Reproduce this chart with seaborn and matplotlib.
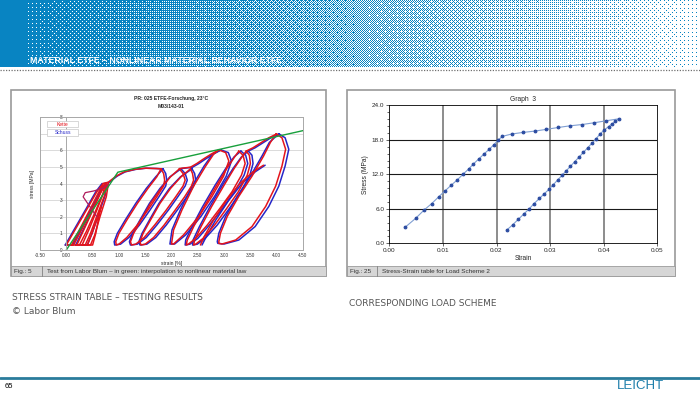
import numpy as np
import seaborn as sns
import matplotlib.pyplot as plt
from matplotlib.patches import Rectangle

sns.set_style('white')
plt.rcParams['font.family'] = ['Liberation Sans', 'DejaVu Sans']

# ---- left chart: cyclic test (strain %, stress MPa) ----
c1_x = [0.00, 0.20, 0.40, 0.58, 0.70, 0.66, 0.50, 0.32, 0.14, 0.00]
c1_y = [0.30, 1.40, 2.50, 3.50, 4.00, 3.50, 2.50, 1.40, 0.30, 0.30]
c2_x = [0.10, 0.28, 0.46, 0.62, 0.74, 0.70, 0.55, 0.38, 0.25, 0.10]
c2_y = [0.30, 1.40, 2.50, 3.50, 4.00, 3.40, 2.30, 1.10, 0.30, 0.30]
c3_x = [0.20, 0.36, 0.52, 0.66, 0.77, 0.73, 0.60, 0.46, 0.36, 0.20]
c3_y = [0.30, 1.40, 2.50, 3.50, 4.00, 3.30, 2.20, 1.00, 0.30, 0.30]
c4_x = [0.30, 0.44, 0.58, 0.70, 0.80, 0.76, 0.64, 0.54, 0.46, 0.30]
c4_y = [0.30, 1.30, 2.40, 3.40, 4.00, 3.20, 2.00, 0.90, 0.30, 0.30]
c5_x = [0.40, 0.50, 0.60, 0.66, 0.62, 0.56, 0.50, 0.40]
c5_y = [0.30, 1.10, 2.00, 2.60, 2.00, 1.00, 0.30, 0.30]
bc1_x = [-0.02, 0.18, 0.38, 0.56, 0.68, 0.64, 0.48, 0.30, 0.12, -0.02]
bc3_x = [0.18, 0.35, 0.51, 0.65, 0.76, 0.74, 0.62, 0.49, 0.40, 0.18]

hump_x = [0.58, 0.45, 0.32, 0.36, 0.52, 0.68, 0.80]
hump_y = [2.00, 2.60, 3.20, 3.45, 3.55, 3.70, 3.95]

env1_x = [0.70, 0.80, 0.95, 1.10, 1.30, 1.50, 1.70, 1.80]
env1_bx = [0.72, 0.82, 0.97, 1.12, 1.32, 1.52, 1.72, 1.83]
env1_y = [4.00, 4.08, 4.45, 4.70, 4.85, 4.92, 4.90, 4.88]

loop_y = [4.88, 4.60, 4.20, 3.85, 3.20, 2.40, 1.50, 0.75, 0.35, 0.30, 0.50, 1.00, 1.80, 2.80, 3.70, 4.40, 4.88]
l1_x = [1.80, 1.85, 1.87, 1.85, 1.72, 1.55, 1.35, 1.15, 1.00, 0.95, 0.94, 1.00, 1.15, 1.35, 1.55, 1.72, 1.80]
l1_bx = [1.84, 1.89, 1.91, 1.89, 1.76, 1.59, 1.39, 1.19, 1.03, 0.92, 0.91, 0.97, 1.12, 1.32, 1.52, 1.70, 1.84]
l2_x = [2.15, 2.22, 2.26, 2.22, 2.08, 1.90, 1.68, 1.48, 1.32, 1.24, 1.22, 1.28, 1.42, 1.60, 1.80, 1.98, 2.15]
l2_bx = [2.18, 2.26, 2.30, 2.26, 2.12, 1.94, 1.72, 1.52, 1.35, 1.22, 1.20, 1.26, 1.40, 1.58, 1.78, 1.97, 2.18]
l3_x = [2.36, 2.40, 2.42, 2.38, 2.25, 2.07, 1.86, 1.66, 1.50, 1.42, 1.40, 1.46, 1.60, 1.78, 1.98, 2.18, 2.36]
l3_bx = [2.39, 2.44, 2.46, 2.42, 2.29, 2.11, 1.90, 1.70, 1.53, 1.40, 1.38, 1.44, 1.58, 1.76, 1.96, 2.17, 2.39]

env2_x = [2.15, 2.36, 2.48, 2.62, 2.76, 2.90]
env2_bx = [2.19, 2.40, 2.52, 2.66, 2.80, 2.94]
env2_y = [4.90, 4.98, 5.20, 5.50, 5.78, 6.02]

l4_x = [2.90, 3.03, 3.09, 2.99, 2.77, 2.52, 2.23, 2.04, 2.00, 2.04, 2.20, 2.42, 2.65, 2.80, 2.90]
l4_bx = [2.94, 3.08, 3.14, 3.04, 2.82, 2.56, 2.27, 2.06, 1.97, 2.01, 2.17, 2.39, 2.62, 2.78, 2.94]
l4_y = [6.02, 5.86, 5.35, 4.44, 3.23, 2.02, 0.91, 0.36, 0.36, 1.21, 2.42, 3.84, 5.05, 5.76, 6.02]

loop5_y = [5.95, 5.70, 5.20, 4.50, 3.50, 2.50, 1.50, 0.70, 0.35, 0.30, 0.60, 1.40, 2.60, 3.90, 4.90, 5.60, 5.95]
l5_x = [3.28, 3.36, 3.40, 3.33, 3.15, 2.92, 2.68, 2.46, 2.32, 2.28, 2.30, 2.42, 2.62, 2.86, 3.05, 3.20, 3.28]
l5_bx = [3.32, 3.41, 3.45, 3.38, 3.20, 2.97, 2.72, 2.50, 2.35, 2.26, 2.27, 2.39, 2.59, 2.83, 3.03, 3.19, 3.32]
l6_x = [3.42, 3.48, 3.50, 3.44, 3.27, 3.05, 2.82, 2.60, 2.46, 2.42, 2.44, 2.56, 2.76, 3.00, 3.19, 3.34, 3.42]
l6_bx = [3.46, 3.53, 3.55, 3.49, 3.32, 3.10, 2.87, 2.64, 2.49, 2.40, 2.41, 2.53, 2.73, 2.97, 3.17, 3.33, 3.46]

part_x = [2.55, 2.62, 2.80, 3.05, 3.30, 3.55, 3.75]
part_bx = [2.58, 2.66, 2.84, 3.09, 3.34, 3.59, 3.78]
part_y = [0.30, 0.80, 1.80, 3.00, 4.00, 4.70, 5.10]

env3_x = [3.42, 3.55, 3.70, 3.85, 4.00]
env3_bx = [3.46, 3.59, 3.74, 3.89, 4.04]
env3_y = [5.95, 6.15, 6.45, 6.75, 6.98]

l8_x = [3.99, 4.10, 4.17, 4.10, 3.98, 3.79, 3.53, 3.22, 2.96, 2.90, 2.90, 2.93, 3.06, 3.28, 3.53, 3.75, 3.88, 3.99]
l8_bx = [4.04, 4.16, 4.23, 4.16, 4.04, 3.85, 3.59, 3.28, 3.00, 2.88, 2.87, 2.90, 3.03, 3.25, 3.50, 3.72, 3.86, 4.04]
l8_y = [6.99, 6.75, 6.06, 5.05, 3.84, 2.62, 1.41, 0.60, 0.36, 0.40, 0.50, 1.01, 2.02, 3.23, 4.44, 5.65, 6.47, 6.99]

green_x = [0.00, 0.98, 4.50]
green_y = [0.00, 4.68, 7.18]

left_xticks = [-0.5, 0.0, 0.5, 1.0, 1.5, 2.0, 2.5, 3.0, 3.5, 4.0, 4.5]
left_yticks = [0, 1, 2, 3, 4, 5, 6, 7, 8]
left_ylabels = ['0', '1', '2', '3', '4', '5', '6', '', '8']  # "7" sits under the legend

# ---- right chart: stress-strain table ----
strain_r = [0.0029, 0.0049, 0.0065, 0.0079, 0.0092, 0.0104, 0.0115, 0.0127, 0.0138, 0.0148,
            0.0157, 0.0167, 0.0177, 0.0186, 0.0195, 0.0203,
            0.0211, 0.0228, 0.0249, 0.0271, 0.0292, 0.0315, 0.0337, 0.0360, 0.0382, 0.0404, 0.0428,
            0.0422, 0.0416, 0.0409, 0.0401, 0.0393, 0.0386, 0.0378, 0.0370, 0.0362, 0.0354,
            0.0346, 0.0338, 0.0330, 0.0322, 0.0314, 0.0306, 0.0298, 0.0289, 0.0280, 0.0270,
            0.0261, 0.0251, 0.0241, 0.0230, 0.0219]
stress_r = [2.75, 4.33, 5.79, 6.90, 8.07, 9.12, 10.06, 11.05, 12.05, 12.92,
            13.80, 14.68, 15.56, 16.32, 17.13, 17.95,
            18.60, 19.00, 19.28, 19.51, 19.80, 20.14, 20.43, 20.66, 20.96, 21.30, 21.65,
            21.20, 20.80, 20.30, 19.70, 19.00, 18.20, 17.40, 16.60, 15.80, 15.00,
            14.20, 13.40, 12.60, 11.80, 11.00, 10.20, 9.40, 8.60, 7.80, 6.90,
            6.00, 5.10, 4.20, 3.20, 2.30]
right_xticks = [0.00, 0.01, 0.02, 0.03, 0.04, 0.05]
right_yticks = [0.0, 6.0, 12.0, 18.0, 24.0]

RED = '#e3141c'
BLUE = '#2626c8'
GREEN = '#18a03c'

fig = plt.figure(figsize=(7, 3.94), dpi=100)

# background layer in pixel coordinates
bg = fig.add_axes([0, 0, 1, 1])
bg.set_xlim(0, 700)
bg.set_ylim(394, 0)
bg.axis('off')

# dithered header band
b = np.array([[0, 2], [3, 1]])
for _ in range(2):
    b = np.block([[4 * b, 4 * b + 2], [4 * b + 3, 4 * b + 1]])
thr = (b + 0.5) / b.size
hh, ww = 67, 700
cols = np.arange(ww)
dens = 0.98 - 0.93 * cols / ww
dens[:25] = 1.0
tile = np.tile(thr, (hh // 8 + 1, ww // 8 + 1))[:hh, :ww]
mask = tile < dens[None, :]
img = np.ones((hh, ww, 3))
img[mask] = [8 / 255, 132 / 255, 194 / 255]
bg.imshow(img, extent=[0, 700, 67, 0], interpolation='nearest', aspect='auto')
bg.plot([0, 700], [69.5, 69.5], ls=(0, (1, 1.2)), color='#707070', lw=0.9)
bg.text(30, 60, 'MATERIAL ETFE – NONLINEAR MATERIAL BEHAVIOR ETFE', color='white',
        fontsize=6.3, va='center', ha='left', fontweight='bold')

# panels with caption bars
for x0, x1, sep, fig_lbl, cap in [
        (11, 326, 42, 'Fig.: 5', 'Test from Labor Blum – in green: interpolation to nonlinear material law'),
        (347, 675, 377, 'Fig.: 25', 'Stress-Strain table for Load Scheme 2')]:
    bg.add_patch(Rectangle((x0, 89.5), x1 - x0, 186.5, fc='white', ec='#9a9a9a', lw=1.2))
    bg.add_patch(Rectangle((x0, 266), x1 - x0, 10, fc='#d6d6d6', ec='#9a9a9a', lw=0.6))
    bg.plot([sep, sep], [266, 276], color='#808080', lw=0.6)
    bg.text(x0 + 3, 271.2, fig_lbl, fontsize=4.6, va='center', color='#333333')
    bg.text(sep + 5, 271.2, cap, fontsize=4.6, va='center', color='#333333')

# slide texts
slide_font = ['DejaVu Sans']
bg.text(12, 297, 'STRESS STRAIN TABLE – TESTING RESULTS', fontsize=6.5, color='#555555',
        va='center', family=slide_font)
bg.text(12, 311, '© Labor Blum', fontsize=6.5, color='#555555', va='center', family=slide_font)
bg.text(349, 304, 'CORRESPONDING LOAD SCHEME', fontsize=6.5, color='#555555', va='center',
        family=slide_font)
bg.plot([0, 700], [378, 378], color='#2a7c9c', lw=2.0)
bg.text(5, 386.5, '65', fontsize=5.5, color='black', va='center')
bg.text(664, 386, 'LEICHT', fontsize=9.5, color='#1f7fab', va='center', ha='right')

# ---- left chart ----
ax1 = fig.add_axes([40 / 700, (394 - 250) / 394, 263 / 700, 133 / 394])
blue_loops = [(bc1_x, c1_y), (bc3_x, c3_y), (env1_bx, env1_y), (l1_bx, loop_y), (l2_bx, loop_y),
              (l3_bx, loop_y), (env2_bx, env2_y), (l4_bx, l4_y), (l5_bx, loop5_y), (l6_bx, loop5_y),
              (part_bx, part_y), (env3_bx, env3_y), (l8_bx, l8_y)]
red_loops = [(c1_x, c1_y), (c2_x, c2_y), (c3_x, c3_y), (c4_x, c4_y), (c5_x, c5_y),
             (env1_x, env1_y), (l1_x, loop_y), (l2_x, loop_y), (l3_x, loop_y), (env2_x, env2_y),
             (l4_x, l4_y), (l5_x, loop5_y), (l6_x, loop5_y), (part_x, part_y), (env3_x, env3_y),
             (l8_x, l8_y)]
for xs, ys in blue_loops:
    sns.lineplot(x=xs, y=ys, sort=False, estimator=None, color=BLUE, lw=1.1, ax=ax1)
for xs, ys in red_loops:
    sns.lineplot(x=xs, y=ys, sort=False, estimator=None, color=RED, lw=1.1, ax=ax1)
sns.lineplot(x=hump_x, y=hump_y, sort=False, estimator=None, color='#b01c5c', lw=0.9, ax=ax1)
sns.lineplot(x=green_x, y=green_y, sort=False, estimator=None, color=GREEN, lw=1.0, ax=ax1)

ax1.set_xlim(-0.5, 4.5)
ax1.set_ylim(0, 8)
ax1.set_xticks(left_xticks)
ax1.set_xticklabels([f'{v:.2f}' for v in left_xticks])
ax1.set_yticks(left_yticks)
ax1.set_yticklabels(left_ylabels)
ax1.yaxis.grid(True, color='#d4d4d4', lw=0.6)
ax1.spines['left'].set_position(('data', 0))
for s in ['left', 'right', 'top', 'bottom']:
    ax1.spines[s].set_color('#a8a8a8')
    ax1.spines[s].set_linewidth(0.7)
ax1.axvline(-0.5, color='#a8a8a8', lw=0.7)
ax1.tick_params(labelsize=3.4, length=1.5, width=0.4, pad=1, colors='#333333')
ax1.set_xlabel('strain [%]', fontsize=3.6, labelpad=1.5)
ax1.set_ylabel('')
ax1.text(-0.03, 0.5, 'stress [MPa]', transform=ax1.transAxes, rotation=90, fontsize=3.6,
         va='center', ha='center')
ax1.text(0.5, 1.14, 'PR: 025 ETFE-Forschung, 23°C', transform=ax1.transAxes, fontsize=3.6,
         ha='center', va='center', fontweight='bold')
ax1.text(0.5, 1.08, 'M03/143-01', transform=ax1.transAxes, fontsize=3.6,
         ha='center', va='center', fontweight='bold')
for yc, lbl, col in [(0.947, 'Kette', RED), (0.883, 'Schuss', BLUE)]:
    ax1.add_patch(Rectangle((0.027, yc - 0.024), 0.118, 0.048, transform=ax1.transAxes,
                            fc='white', ec='#c8c8c8', lw=0.5, zorder=5))
    ax1.text(0.086, yc, lbl, transform=ax1.transAxes, fontsize=3.6, color=col,
             ha='center', va='center', zorder=6)

# ---- right chart ----
ax2 = fig.add_axes([389.3 / 700, (394 - 243.3) / 394, 268 / 700, 138 / 394])
for v in right_xticks[1:-1]:
    ax2.axvline(v, color='#8c8c8c', lw=1.4, zorder=0)
for v in right_yticks[1:-1]:
    ax2.axhline(v, color='#1a1a1a', lw=0.8, zorder=0)
sns.lineplot(x=strain_r, y=stress_r, sort=False, estimator=None, color='#7f9ed2', lw=0.8,
             marker='o', markersize=2.0, markerfacecolor='#2a4aa0', markeredgecolor='#2a4aa0',
             ax=ax2)
ax2.set_xlim(0, 0.05)
ax2.set_ylim(0, 24)
ax2.set_xticks(right_xticks)
ax2.set_xticklabels([f'{v:.2f}' for v in right_xticks])
ax2.set_yticks(right_yticks)
ax2.set_yticklabels([f'{v:.1f}' for v in right_yticks])
ax2.set_yticks(np.arange(0, 24.1, 1.2), minor=True)
ax2.tick_params(axis='y', which='minor', length=1.5, width=0.5, left=True)
ax2.tick_params(which='major', labelsize=4.6, length=2, width=0.5, pad=1.5, left=True, bottom=True)
for s in ['left', 'right', 'top', 'bottom']:
    ax2.spines[s].set_color('black')
    ax2.spines[s].set_linewidth(0.6)
ax2.set_xlabel('Strain', fontsize=4.8, labelpad=1)
ax2.set_ylabel('Stress (MPa)', fontsize=4.8, labelpad=2)
ax2.set_title('Graph  3', fontsize=4.8, pad=3)

fig.savefig('out.png', dpi=100)
